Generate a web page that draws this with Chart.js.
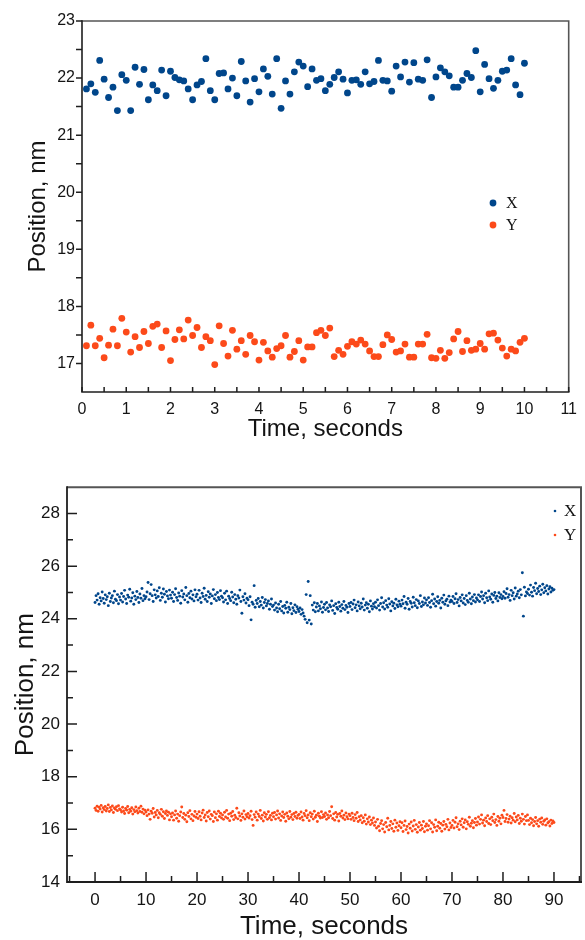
<!DOCTYPE html>
<html><head><meta charset="utf-8">
<script src="https://cdn.jsdelivr.net/npm/chart.js@4"></script>
<style>
html,body{margin:0;padding:0;background:#fff;width:585px;height:940px;overflow:hidden;}
canvas{position:absolute;left:0;}
#c1{top:0;}
#c2{top:470px;}
</style></head><body>
<canvas id="c1" width="585" height="455" style="width:585px;height:455px"></canvas>
<canvas id="c2" width="585" height="470" style="width:585px;height:470px"></canvas>
<script>
// ---------- DATA ----------
const seriesNames = ['X', 'Y'];

// Top chart: samples every 0.1 s from 0.1 s to 10.0 s
const topStart = 0.1, topStep = 0.1;
const topX = [21.81,21.90,21.75,22.31,21.98,21.66,21.84,21.43,22.06,21.96,
  21.43,22.19,21.89,22.15,21.62,21.88,21.78,22.14,21.69,22.12,
  22.01,21.97,21.95,21.81,21.62,21.88,21.94,22.34,21.78,21.62,
  22.08,22.09,21.81,22.00,21.69,22.29,21.95,21.58,21.99,21.76,
  22.16,22.03,21.72,22.34,21.47,21.95,21.72,22.11,22.28,22.21,
  21.85,22.16,21.96,21.99,21.78,21.89,22.01,22.11,21.98,21.74,
  21.96,21.97,21.89,22.11,21.90,21.94,22.31,21.96,21.95,21.77,
  22.21,22.02,22.28,21.93,22.27,21.98,21.96,22.32,21.66,22.02,
  22.18,22.11,22.04,21.84,21.84,21.96,22.08,22.01,22.48,21.76,
  22.24,21.99,21.82,21.96,22.12,22.14,22.34,21.88,21.71,22.26];
const topY = [17.31,17.67,17.31,17.44,17.10,17.32,17.60,17.31,17.79,17.55,
  17.20,17.47,17.28,17.56,17.35,17.65,17.69,17.28,17.57,17.05,
  17.42,17.59,17.43,17.76,17.49,17.63,17.28,17.47,17.40,16.98,
  17.66,17.35,17.13,17.58,17.25,17.40,17.16,17.49,17.38,17.06,
  17.37,17.22,17.11,17.26,17.31,17.49,17.11,17.21,17.40,17.06,
  17.29,17.29,17.54,17.58,17.49,17.62,17.12,17.23,17.16,17.30,
  17.38,17.34,17.41,17.34,17.22,17.12,17.12,17.33,17.50,17.42,
  17.20,17.22,17.34,17.11,17.11,17.34,17.34,17.51,17.10,17.09,
  17.23,17.09,17.19,17.43,17.56,17.21,17.40,17.23,17.25,17.35,
  17.25,17.52,17.53,17.41,17.27,17.13,17.25,17.22,17.37,17.44];
const topXTicks = [0,1,2,3,4,5,6,7,8,9,10,11];
const topXMinor = [0.5,1.5,2.5,3.5,4.5,5.5,6.5,7.5,8.5,9.5,10.5];
const topYTicks = [17,18,19,20,21,22,23];
const topYMinor = [17.5,18.5,19.5,20.5,21.5,22.5];

// Bottom chart: samples every 0.2 s from 0 s to 90 s
const botStart = 0, botStep = 0.2;
const botX = [
24.62,24.88,24.71,24.95,24.55,24.80,24.68,25.02,24.77,24.59,24.91,24.73,24.84,24.50,24.97,24.66,24.79,24.88,24.61,25.05,24.74,24.69,24.92,24.57,24.83,
24.71,24.96,24.64,24.85,25.08,24.75,24.58,24.90,24.82,25.12,24.67,24.79,24.99,24.55,24.86,24.73,25.04,24.81,24.62,24.94,24.78,25.15,24.69,24.88,24.76,
24.84,25.02,25.38,24.73,24.95,25.30,24.88,24.66,25.10,24.91,24.79,25.06,24.85,25.18,24.70,24.97,24.82,25.13,24.93,24.64,25.04,24.87,24.76,25.09,24.90,
24.78,25.01,24.66,24.92,25.14,24.81,24.70,24.98,24.86,24.59,25.07,24.83,24.94,24.72,25.19,24.88,24.63,24.96,24.80,25.05,24.75,24.91,24.68,25.10,24.84,
24.93,24.71,25.08,24.79,24.62,24.97,24.85,25.16,24.74,24.89,24.66,25.03,24.82,24.94,24.58,24.87,25.11,24.76,24.92,24.69,25.00,24.81,24.73,25.07,24.86,
24.80,24.64,24.97,24.72,25.05,24.58,24.86,24.77,24.69,25.01,24.83,24.61,24.92,24.74,24.55,24.88,24.79,25.09,24.66,24.21,24.84,24.71,24.95,24.60,24.78,
24.72,24.50,24.84,23.96,24.63,24.55,25.26,24.44,24.70,24.58,24.77,24.46,24.66,24.52,24.81,24.41,24.62,24.73,24.49,24.58,24.68,24.36,24.55,24.75,24.47,
24.52,24.33,24.60,24.41,24.27,24.55,24.38,24.66,24.30,24.47,24.22,24.51,24.40,24.63,24.25,24.44,24.35,24.58,24.19,24.42,24.31,24.53,24.24,24.46,24.36,
24.28,24.41,24.17,24.35,24.22,24.10,23.98,24.92,23.85,25.42,23.95,24.88,23.80,24.52,24.33,24.61,24.27,24.45,24.58,24.30,24.49,24.38,24.64,24.25,24.43,
24.55,24.34,24.62,24.41,24.28,24.53,24.46,24.68,24.32,24.50,24.20,24.57,24.43,24.36,24.63,24.47,24.29,24.54,24.40,24.66,24.35,24.51,24.44,24.24,24.58,
24.47,24.62,24.35,24.56,24.71,24.42,24.53,24.30,24.64,24.49,24.38,24.59,24.45,24.75,24.33,24.52,24.61,24.40,24.55,24.27,24.68,24.48,24.37,24.57,24.46,
24.63,24.41,24.72,24.50,24.33,24.58,24.80,24.45,24.61,24.37,24.69,24.52,24.44,24.76,24.56,24.30,24.65,24.49,24.59,24.39,24.74,24.53,24.46,24.67,24.55,
24.48,24.71,24.57,24.85,24.40,24.63,24.55,24.77,24.36,24.66,24.59,24.45,24.82,24.61,24.50,24.73,24.42,24.68,24.58,24.88,24.47,24.64,24.53,24.79,24.60,
24.72,24.51,24.80,24.62,24.44,24.69,24.93,24.57,24.75,24.48,24.66,24.84,24.59,24.70,24.41,24.78,24.63,24.90,24.55,24.68,24.74,24.50,24.86,24.64,24.71,
24.66,24.85,24.58,24.76,24.95,24.62,24.73,24.49,24.81,24.68,24.91,24.60,24.77,24.54,24.88,24.70,24.63,24.97,24.75,24.57,24.83,24.69,24.92,24.64,24.79,
24.72,24.91,24.66,24.85,25.02,24.75,24.88,24.61,24.97,24.80,24.69,25.06,24.83,24.74,24.94,24.63,24.89,25.00,24.77,24.86,24.68,24.99,24.81,24.92,24.76,
24.85,25.03,24.78,24.96,25.14,24.82,24.92,24.70,25.08,24.88,24.99,24.75,25.17,24.86,24.94,25.05,24.80,25.11,24.91,25.75,24.10,25.20,24.87,25.02,24.96,
25.12,24.90,25.28,25.01,24.86,25.19,25.07,25.35,24.95,25.15,25.04,25.24,24.92,25.10,25.31,24.99,25.18,25.06,25.26,24.94,25.13,25.22,25.02,25.16,25.08,
25.11];
const botY = [
16.80,16.72,16.88,16.69,16.84,16.77,16.91,16.66,16.82,16.75,16.87,16.70,16.79,16.93,16.68,16.83,16.74,16.89,16.64,16.81,16.76,16.86,16.71,16.90,16.78,
16.74,16.66,16.84,16.70,16.60,16.79,16.73,16.87,16.63,16.76,16.69,16.82,16.58,16.75,16.67,16.85,16.71,16.62,16.80,16.68,16.88,16.65,16.77,16.59,16.73,
16.66,16.52,16.74,16.58,16.38,16.69,16.61,16.79,16.47,16.64,16.55,16.72,16.44,16.63,16.57,16.76,16.50,16.67,16.41,16.60,16.70,16.53,16.65,16.36,16.59,
16.48,16.62,16.35,16.55,16.70,16.42,16.58,16.31,16.52,16.66,16.85,16.45,16.60,16.38,16.54,16.29,16.63,16.49,16.71,16.40,16.57,16.33,16.51,16.68,16.46,
16.58,16.41,16.67,16.50,16.36,16.62,16.73,16.45,16.55,16.32,16.64,16.48,16.70,16.39,16.57,16.52,16.30,16.66,16.44,16.59,16.35,16.69,16.49,16.61,16.43,
16.55,16.38,16.65,16.47,16.72,16.42,16.58,16.33,16.61,16.50,16.68,16.37,16.54,16.45,16.80,16.40,16.63,16.51,16.34,16.59,16.46,16.70,16.39,16.56,16.48,
16.60,16.43,16.52,16.69,16.37,16.15,16.56,16.46,16.66,16.35,16.58,16.49,16.72,16.41,16.54,16.32,16.63,16.47,16.57,16.38,16.67,16.44,16.53,16.36,16.61,
16.48,16.64,16.39,16.55,16.70,16.43,16.59,16.34,16.51,16.66,16.45,16.57,16.31,16.62,16.50,16.40,16.68,16.46,16.56,16.37,16.60,16.49,16.65,16.42,16.53,
16.57,16.41,16.66,16.47,16.35,16.60,16.52,16.71,16.44,16.55,16.33,16.63,16.48,16.58,16.39,16.69,16.46,16.54,16.30,16.61,16.50,16.43,16.67,16.45,16.56,
16.49,16.62,16.38,16.55,16.44,16.68,16.52,16.86,16.41,16.59,16.35,16.64,16.47,16.57,16.32,16.60,16.50,16.70,16.43,16.54,16.37,16.62,16.48,16.40,16.58,
16.52,16.38,16.61,16.45,16.33,16.56,16.42,16.64,16.30,16.48,16.36,16.52,16.25,16.44,16.31,16.55,16.20,16.40,16.28,16.47,16.18,16.35,16.24,16.43,16.15,
16.28,16.05,16.38,16.12,15.95,16.22,16.33,16.02,16.18,15.90,16.26,16.10,16.42,15.98,16.15,16.30,16.03,16.21,15.93,16.35,16.08,16.24,15.96,16.14,16.29,
16.06,16.25,15.92,16.15,16.32,15.99,16.11,15.86,16.20,16.04,16.28,15.94,16.13,16.34,16.00,16.18,15.89,16.09,16.26,15.97,16.16,16.03,16.30,15.91,16.12,
16.21,15.97,16.14,16.33,16.02,16.25,15.90,16.18,16.08,16.36,15.95,16.12,16.27,16.04,16.22,15.93,16.16,16.30,16.01,16.19,16.10,16.38,15.98,16.24,16.07,
16.15,16.34,16.05,16.27,16.44,16.10,16.21,15.99,16.31,16.17,16.40,16.08,16.25,16.36,16.02,16.29,16.19,16.46,16.12,16.23,16.33,16.06,16.26,16.41,16.16,
16.28,16.47,16.20,16.38,16.55,16.24,16.35,16.14,16.43,16.30,16.52,16.22,16.40,16.18,16.46,16.33,16.58,16.26,16.37,16.15,16.49,16.31,16.42,16.21,16.54,
16.45,16.72,16.30,16.41,16.56,16.27,16.39,16.50,16.24,16.44,16.35,16.60,16.29,16.47,16.36,16.53,16.22,16.42,16.31,16.58,16.38,16.20,16.49,16.33,16.55,
16.34,16.18,16.42,16.25,16.37,16.14,16.30,16.45,16.21,16.33,16.12,16.39,16.27,16.43,16.19,16.31,16.36,16.16,16.40,16.24,16.29,16.13,16.35,16.22,16.32,
16.26];
const botXTicks = [0,10,20,30,40,50,60,70,80,90];
const botXMinor = [-5,5,15,25,35,45,55,65,75,85,95];
const botYTicks = [14,16,18,20,22,24,26,28];
const botYMinor = [15,17,19,21,23,25,27];

// ---------- STYLE ----------
const BLUE = '#00468b';
const RED = '#fc4a1a';
const SANS = "'Liberation Sans', Arial, Helvetica, sans-serif";
const SERIF = "'Liberation Serif', 'Times New Roman', serif";
const TXT = '#141414';

function toPoints(vals, start, step) {
  return vals.map((v, i) => ({x: +(start + i * step).toFixed(2), y: v}));
}

const decor = {
  id: 'decor',
  afterDatasetsDraw(chart, args, o) {
    const ctx = chart.ctx, a = chart.chartArea;
    const xs = chart.scales.x, ys = chart.scales.y;
    ctx.save();
    ctx.lineCap = 'butt';
    // frame (top & right)
    ctx.strokeStyle = o.frameColor; ctx.lineWidth = o.frameWidth;
    ctx.beginPath();
    ctx.moveTo(a.left, a.top); ctx.lineTo(a.right, a.top); ctx.lineTo(a.right, a.bottom);
    ctx.stroke();
    // axes
    ctx.strokeStyle = o.axisColor; ctx.lineWidth = o.axisWidth;
    ctx.beginPath();
    ctx.moveTo(a.left, a.top - o.frameWidth / 2); ctx.lineTo(a.left, a.bottom); ctx.lineTo(a.right + o.frameWidth / 2, a.bottom);
    ctx.stroke();
    // ticks
    ctx.lineWidth = o.tickWidth;
    ctx.beginPath();
    const xt = xs.ticks.map(t => t.value);
    const yt = ys.ticks.map(t => t.value);
    xt.forEach(v => { const p = xs.getPixelForValue(v); ctx.moveTo(p, a.bottom); ctx.lineTo(p, a.bottom + o.xDir * o.xMajor); });
    o.xMinor.forEach(v => { const p = xs.getPixelForValue(v); if (p < a.left - 0.5 || p > a.right + 0.5) return; ctx.moveTo(p, a.bottom); ctx.lineTo(p, a.bottom + o.xDir * o.xMinorLen); });
    yt.forEach(v => { const p = ys.getPixelForValue(v); ctx.moveTo(a.left, p); ctx.lineTo(a.left + o.yDir * o.yMajor, p); });
    o.yMinor.forEach(v => { const p = ys.getPixelForValue(v); ctx.moveTo(a.left, p); ctx.lineTo(a.left + o.yDir * o.yMinorLen, p); });
    ctx.stroke();
    // legend
    const L = o.legend;
    chart.data.datasets.forEach((ds, i) => {
      const px = L.x, py = L.y + i * L.gap;
      ctx.fillStyle = ds.pointBackgroundColor;
      ctx.beginPath(); ctx.arc(px, py, L.r, 0, Math.PI * 2); ctx.fill();
      ctx.fillStyle = TXT;
      ctx.font = L.size + 'px ' + SERIF;
      ctx.textAlign = 'left'; ctx.textBaseline = 'middle';
      ctx.fillText(ds.label, px + L.textGap, py + 1);
    });
    ctx.restore();
  }
};

function makeChart(id, cfg) {
  return new Chart(document.getElementById(id), {
    type: 'scatter',
    data: {
      datasets: [
        {label: seriesNames[0], data: cfg.dx, pointBackgroundColor: BLUE, backgroundColor: BLUE, pointBorderWidth: 0, pointRadius: cfg.r, showLine: false},
        {label: seriesNames[1], data: cfg.dy, pointBackgroundColor: RED, backgroundColor: RED, pointBorderWidth: 0, pointRadius: cfg.r, showLine: false}
      ]
    },
    options: {
      responsive: false,
      animation: false,
      events: [],
      layout: {padding: cfg.pad},
      plugins: {legend: {display: false}, tooltip: {enabled: false}, decor: cfg.decor},
      scales: {
        x: {
          type: 'linear', min: cfg.xmin, max: cfg.xmax,
          afterBuildTicks: s => { s.ticks = cfg.xTicks.map(v => ({value: v})); },
          afterFit: s => { s.height = cfg.xh; },
          grid: {display: false, drawTicks: false},
          border: {display: false},
          ticks: {autoSkip: false, maxRotation: 0, padding: cfg.xpad, color: TXT, font: {family: SANS, size: cfg.tickSize}, callback: v => String(v)},
          title: {display: true, text: 'Time, seconds', color: TXT, font: {family: SANS, size: cfg.titleSize, lineHeight: cfg.titleLH}, padding: {top: 0, bottom: cfg.xtpad}}
        },
        y: {
          type: 'linear', min: cfg.ymin, max: cfg.ymax,
          afterBuildTicks: s => { s.ticks = cfg.yTicks.map(v => ({value: v})); },
          afterFit: s => { s.width = cfg.yw; },
          grid: {display: false, drawTicks: false},
          border: {display: false},
          ticks: {autoSkip: false, padding: cfg.ypad, color: TXT, font: {family: SANS, size: cfg.tickSize}, callback: v => String(v)},
          title: {display: true, text: 'Position, nm', color: TXT, font: {family: SANS, size: cfg.titleSize, lineHeight: cfg.titleLH}, padding: {top: cfg.ytpad, bottom: 0}}
        }
      }
    },
    plugins: [decor]
  });
}

makeChart('c1', {
  dx: toPoints(topX, topStart, topStep), dy: toPoints(topY, topStart, topStep), r: 3.4,
  xmin: 0, xmax: 11, ymin: 16.5, ymax: 23,
  xTicks: topXTicks, yTicks: topYTicks,
  pad: {top: 21, right: 9, left: 0, bottom: 0},
  xh: 63, yw: 82, xpad: 8, ypad: 7, xtpad: 11, ytpad: 24,
  tickSize: 16, titleSize: 24, titleLH: 1.2,
  decor: {frameColor: '#555', frameWidth: 1.6, axisColor: '#1e1e1e', axisWidth: 1.6, tickWidth: 1.5,
    xDir: -1, xMajor: 5, xMinorLen: 5, xMinor: topXMinor,
    yDir: -1, yMajor: 6, yMinorLen: 6, yMinor: topYMinor,
    legend: {x: 493, y: 203, gap: 22, r: 3.4, textGap: 13, size: 16}}
});

makeChart('c2', {
  dx: toPoints(botX, botStart, botStep), dy: toPoints(botY, botStart, botStep), r: 1.45,
  xmin: -5.5, xmax: 95.3, ymin: 14, ymax: 29,
  xTicks: botXTicks, yTicks: botYTicks,
  pad: {top: 16, right: 2, left: 0, bottom: 0},
  xh: 58, yw: 67, xpad: 8, ypad: 7, xtpad: 0, ytpad: 13,
  tickSize: 17, titleSize: 26, titleLH: 1.0,
  decor: {frameColor: '#555', frameWidth: 2, axisColor: '#1e1e1e', axisWidth: 1.8, tickWidth: 1.5,
    xDir: -1, xMajor: 10, xMinorLen: 6, xMinor: botXMinor,
    yDir: 1, yMajor: 10, yMinorLen: 6, yMinor: botYMinor,
    legend: {x: 555, y: 41, gap: 24, r: 1.3, textGap: 9, size: 17}}
});
</script>
</body></html>
